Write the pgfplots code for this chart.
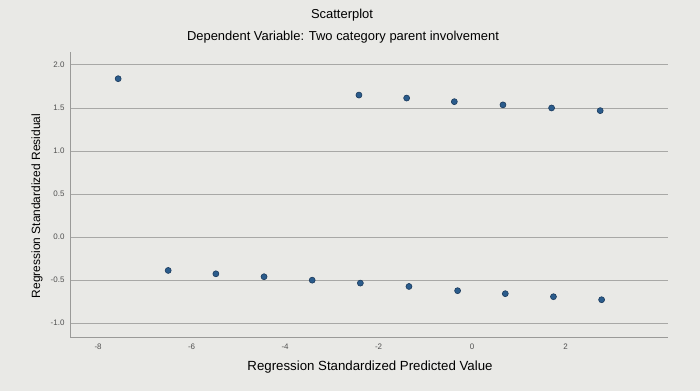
\documentclass[border=0pt]{standalone}
\usepackage{fontspec}
\setmainfont{Liberation Sans}
\usepackage{pgfplots}
\pgfplotsset{compat=1.18}
\definecolor{bg}{HTML}{E9E9E6}
\definecolor{gridc}{HTML}{A8A8A6}
\definecolor{axisc}{HTML}{9A9A98}
\definecolor{ptfill}{HTML}{2B5C8C}
\definecolor{ptdraw}{HTML}{1B3A5C}
\definecolor{tickc}{HTML}{505050}
\begin{document}
\begin{tikzpicture}[x=1bp,y=1bp]
\useasboundingbox (0,0) rectangle (700,391);
\fill[bg] (0,0) rectangle (700,391);
\begin{axis}[
  at={(70bp,54bp)}, anchor=south west,
  scale only axis, width=598bp, height=285bp,
  xmin=-8.6, xmax=4.19, ymin=-1.16, ymax=2.15,
  xtick={-8,-6,-4,-2,0,2}, ytick={-1,-0.5,0,0.5,1,1.5,2},
  yticklabels={-1.0,-0.5,0.0,0.5,1.0,1.5,2.0},
  axis lines*=left,
  axis line style={axisc, line width=0.8bp, -},
  major tick length=0pt,
  ymajorgrids, grid style={gridc, line width=0.9bp},
  tick label style={font=\fontsize{8}{9}\selectfont, text=tickc},
  /pgf/number format/assume math mode=true,
  xticklabel style={yshift=-3bp},
  yticklabel style={xshift=-2bp},
  clip=false,
]
\addplot[only marks, mark=*, mark size=3bp, mark options={fill=ptfill, draw=ptdraw, line width=0.6bp}] coordinates {
(-7.57,1.84) (-2.42,1.65) (-1.40,1.615) (-0.38,1.573) (0.66,1.536) (1.70,1.50) (2.74,1.469)
(-6.50,-0.387) (-5.48,-0.426) (-4.45,-0.46) (-3.42,-0.50) (-2.39,-0.534) (-1.35,-0.573)
(-0.31,-0.622) (0.71,-0.657) (1.74,-0.692) (2.77,-0.727)
};
\end{axis}
\node[font=\fontsize{13}{15}\selectfont] at (342,376) {Scatterplot};
\node[font=\fontsize{13}{15}\selectfont] at (343,354) {Dependent Variable: Two category parent involvement};
\node[font=\fontsize{13.3}{15}\selectfont] at (370,24) {Regression Standardized Predicted Value};
\node[font=\fontsize{12}{14}\selectfont, rotate=90] at (37,185) {Regression Standardized Residual};
\end{tikzpicture}
\end{document}
